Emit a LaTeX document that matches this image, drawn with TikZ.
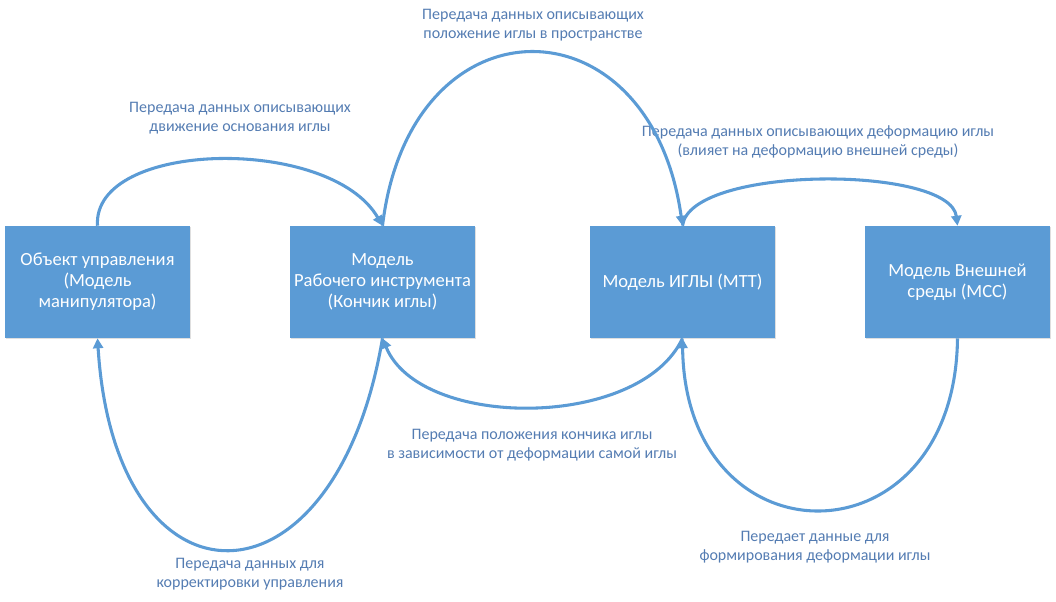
\documentclass[tikz,border=0pt]{standalone}
\usepackage{fontspec}
\setmainfont{Carlito}
\usepackage{tikz}
\usetikzlibrary{arrows.meta,shadows}

\definecolor{boxblue}{RGB}{91,155,213}
\definecolor{labelblue}{RGB}{84,124,178}

\tikzset{
    model/.style={fill=boxblue, draw=none, text=white, align=center,
        minimum width=138.75pt, minimum height=84pt, inner sep=2pt,
        font=\fontsize{13.9}{15.75}\selectfont,
        drop shadow={shadow xshift=0.6pt, shadow yshift=-0.8pt, opacity=0.25}},
    caption/.style={text=labelblue, align=center,
        font=\fontsize{12}{14.6}\selectfont},
    flow/.style={draw=boxblue, line width=2.3pt,
        -{Triangle[length=7.5pt,width=7.5pt]}}
}

\begin{document}
\begin{tikzpicture}[x=0.75pt,y=-0.75pt]
            \useasboundingbox (0,0) rectangle (1056,601);
            % models
            \node[model] (obj) at (97.5,282) {Объект управления\\(Модель\\манипулятора)};
            \node[model] (tool) at (382.5,282) {Модель\\Рабочего инструмента\\(Кончик иглы)};
            \node[model] (needle) at (682.5,282) {Модель ИГЛЫ (МТТ)};
            \node[model] (env) at (957.5,282) {Модель Внешней\\среды (МСС)};
            % labels
            \node[caption] (capbase) at (240,118) {Передача данных описывающих\\движение основания иглы};
            \node[caption] (cappos) at (533,25) {Передача данных описывающих\\положение иглы в пространстве};
            \node[caption] (capdef) at (818,142) {Передача данных описывающих деформацию иглы\\(влияет на деформацию внешней среды)};
            \node[caption] (captip) at (532,445) {Передача положения кончика иглы\\в зависимости от деформации самой иглы};
            \node[caption] (capcorr) at (250,574) {Передача данных для\\корректировки управления};
            \node[caption] (capform) at (815,547) {Передает данные для\\формирования деформации иглы};
            % upper flows
            \draw[flow] (obj.north) .. controls (92,140) and (330,135) .. (tool.north);
            \draw[flow] (tool.north) .. controls (410,-5) and (650,-5) .. (needle.north);
            \draw[flow] (needle.north) .. controls (690,165) and (950,165) .. (env.north);
            % lower flows
            \draw[flow] (needle.south) .. controls (640,430) and (420,430) .. (tool.south);
            \draw[flow] (tool.south) .. controls (335,620) and (115,620) .. (obj.south);
            \draw[flow] (env.south) .. controls (955,567) and (685,567) .. (needle.south);
        \end{tikzpicture}
\end{document}
